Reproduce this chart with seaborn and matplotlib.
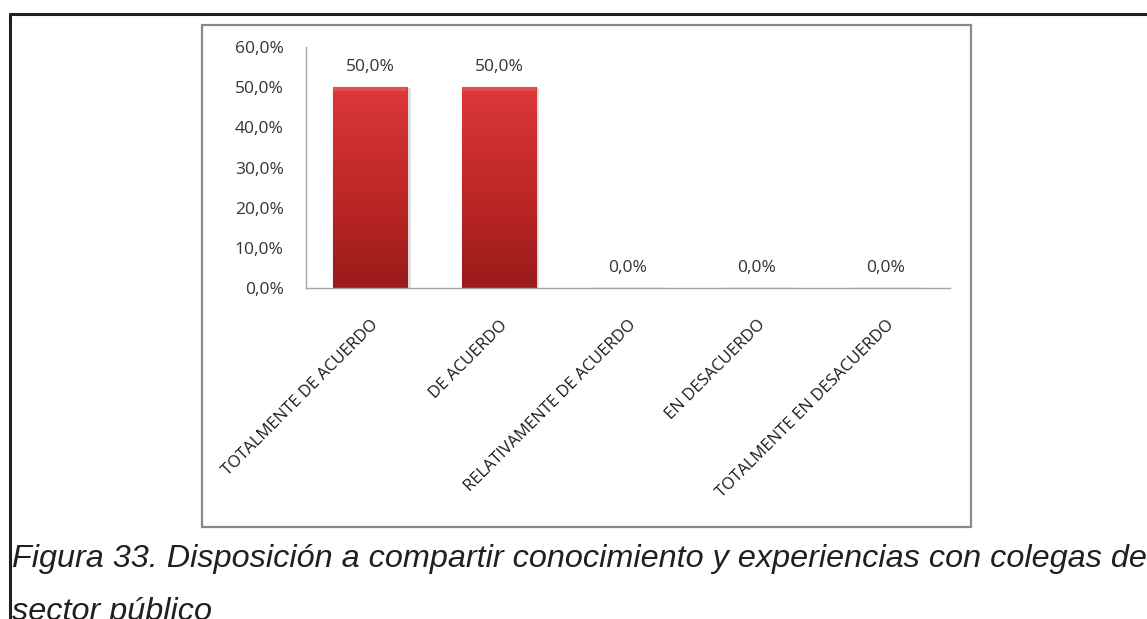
import numpy as np
import pandas as pd
import matplotlib
matplotlib.use("Agg")
import matplotlib.pyplot as plt
from matplotlib.lines import Line2D
from matplotlib.patches import Rectangle
from matplotlib.colors import LinearSegmentedColormap
import seaborn as sns

categories = [
    "TOTALMENTE DE ACUERDO",
    "DE ACUERDO",
    "RELATIVAMENTE DE ACUERDO",
    "EN DESACUERDO",
    "TOTALMENTE EN DESACUERDO",
]
values = [0.50, 0.50, 0.0, 0.0, 0.0]
y_ticks = [0.0, 0.1, 0.2, 0.3, 0.4, 0.5, 0.6]
caption_lines = [
    "Figura 33. Disposición a compartir conocimiento y experiencias con colegas del",
    "sector público",
]

df = pd.DataFrame({"categoria": categories, "valor": values})

sns.set_theme(style="white")
plt.rcParams["font.family"] = ["Open Sans", "DejaVu Sans"]

W, H, DPI = 1147, 619, 100
fig = plt.figure(figsize=(W / DPI, H / DPI), dpi=DPI)
fig.patch.set_facecolor("white")

def px(x, y):
    return x / W, 1 - y / H

# page frame lines (top and left)
fig.add_artist(Line2D([10 / W, 1.0], [1 - 14 / H] * 2, color="#231f20", lw=2.2))
fig.add_artist(Line2D([10 / W] * 2, [0.0, 1 - 14 / H], color="#231f20", lw=2.2))

# chart area box
x0, y0 = px(202, 527)
x1, y1 = px(971, 25)
fig.add_artist(Rectangle((x0, y0), x1 - x0, y1 - y0, transform=fig.transFigure,
                         fill=False, edgecolor="#8a8a8a", lw=1.6))

# plot area
ax_l, ax_b = px(306, 288)
ax_r, ax_t = px(950, 47)
ax = fig.add_axes([ax_l, ax_b, ax_r - ax_l, ax_t - ax_b])

sns.barplot(data=df, x="categoria", y="valor", ax=ax, color="#c62828",
            width=0.575, saturation=1, edgecolor="#8e1a1a", linewidth=0.8)

ax.set_xlabel("")
ax.set_ylabel("")
ax.set_yticks(y_ticks)
ax.set_yticklabels([f"{v * 100:.1f}%".replace(".", ",") for v in y_ticks],
                   fontsize=12.5, color="#333333")
ax.tick_params(axis="both", length=0)
ax.tick_params(axis="y", pad=16)

ax.set_xticks(range(len(categories)))
ax.set_xticklabels(categories, rotation=45, ha="right", rotation_mode="anchor",
                   fontsize=12, color="#1a1a1a")
ax.tick_params(axis="x", pad=21)

for side in ["top", "right"]:
    ax.spines[side].set_visible(False)
for side in ["left", "bottom"]:
    ax.spines[side].set_color("#a6a6a6")
    ax.spines[side].set_linewidth(1.0)
ax.grid(False)

# vertical red gradient inside each bar, with a light bevel at the top
cmap = LinearSegmentedColormap.from_list("bar_red", ["#9a1a1a", "#c02828", "#dc3838"])
grad = np.linspace(0, 1, 256).reshape(-1, 1)
for patch in list(ax.patches):
    h = patch.get_height()
    if h <= 0:
        continue
    x = patch.get_x()
    w = patch.get_width()
    z = patch.get_zorder()
    ax.add_patch(Rectangle((x + 0.025, 0), w, h - 0.003, facecolor="#000000",
                           alpha=0.12, zorder=z - 0.5, lw=0))
    im = ax.imshow(grad, cmap=cmap, origin="lower", aspect="auto",
                   extent=(x, x + w, 0, h), zorder=z + 0.1)
    im.set_clip_path(patch)
    ax.add_patch(Rectangle((x, h - 0.010), w, 0.010, facecolor="#e85858",
                           alpha=0.7, zorder=z + 0.2, lw=0))

ax.set_xlim(-0.5, len(categories) - 0.5)
ax.set_ylim(0, 0.6)

# value labels
for i, v in enumerate(values):
    ax.annotate(f"{v * 100:.1f}%".replace(".", ","), (i, v), xytext=(0, 14.5),
                textcoords="offset points", ha="center", va="center",
                fontsize=12.5, color="#333333")

# caption
baselines = [567, 620]
for line, yb in zip(caption_lines, baselines):
    fig.text(12 / W, 1 - yb / H, line, fontsize=23.3, style="italic",
             family=["Liberation Sans", "DejaVu Sans"], color="#231f20",
             ha="left", va="baseline")

fig.savefig("out.png", dpi=DPI)
